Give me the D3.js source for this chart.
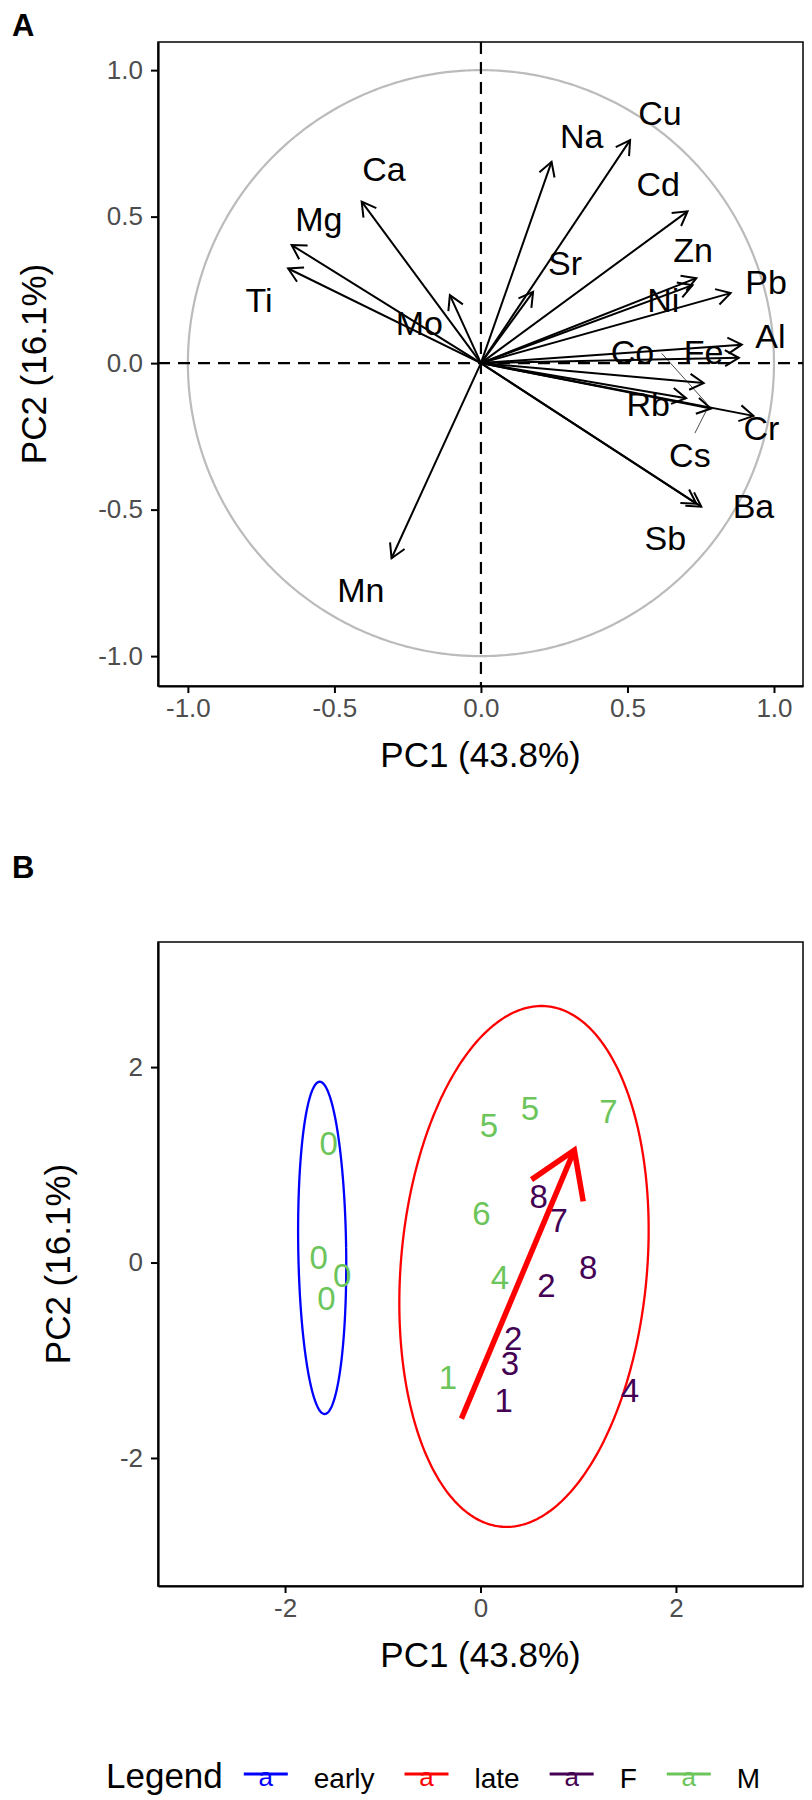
<!DOCTYPE html>
<html><head><meta charset="utf-8">
<script src="https://cdn.jsdelivr.net/npm/d3@7"></script>
<style>body{margin:0;background:#fff} svg{display:block} text{font-family:"Liberation Sans",Arial,sans-serif}</style>
</head><body><svg id="c" width="812" height="1800"></svg>
<script>
// ---------- Panel A data: variable loadings ----------
const variables = ["Cu","Na","Cd","Sr","Zn","Ni","Pb","Al","Fe","Co","Rb","Cs","Cr","Ba","Sb","Mn","Mo","Ti","Mg","Ca"];
const loadPC1 = [0.509,0.241,0.705,0.178,0.735,0.722,0.852,0.89,0.88,0.76,0.70,0.785,0.93,0.752,0.735,-0.305,-0.106,-0.658,-0.646,-0.407];
const loadPC2 = [0.761,0.687,0.518,0.243,0.290,0.266,0.239,0.063,0.018,-0.068,-0.12,-0.155,-0.18,-0.49,-0.48,-0.666,0.232,0.323,0.403,0.551];
const labelPC1 = [0.611,0.344,0.605,0.287,0.724,0.622,0.973,0.988,0.76,0.517,0.571,0.713,0.957,0.93,0.629,-0.41,-0.21,-0.757,-0.553,-0.331];
const labelPC2 = [0.853,0.775,0.613,0.341,0.386,0.215,0.278,0.094,0.039,0.039,-0.138,-0.314,-0.22,-0.486,-0.596,-0.775,0.139,0.217,0.494,0.664];
const leaderFromPC1 = [0.617,0.73], leaderFromPC2 = [0.033,-0.239];
const leaderToPC1 = [0.77,0.77], leaderToPC2 = [-0.137,-0.16];
const ticksA = [-1.0,-0.5,0.0,0.5,1.0];

// ---------- Panel B data: sample scores ----------
const sampleText  = ["0","0","0","0","5","5","6","4","1","7","8","7","8","2","2","3","1","4"];
const sampleSex   = ["M","M","M","M","M","M","M","M","M","M","F","F","F","F","F","F","F","F"];
const scorePC1 = [-1.553,-1.655,-1.416,-1.576,0.085,0.505,0.01,0.198,-0.332,1.31,0.595,0.801,1.101,0.675,0.334,0.30,0.238,1.528];
const scorePC2 = [1.218,0.057,-0.13,-0.369,1.405,1.576,0.505,-0.147,-1.171,1.55,0.68,0.433,-0.051,-0.232,-0.778,-1.034,-1.41,-1.307];
const ellipseGroup = ["early","late"];
const ellipseCx = [-1.62,0.445], ellipseCy = [0.15,-0.04];
const ellipseP = [0.245,1.263], ellipseQ = [-0.025,0.179], ellipseR = [1.70,2.665];
const trendFrom = [-0.195,-1.597], trendTo = [0.96,1.15];
const ticksB = [-2,0,2];

// ---------- Legend ----------
const legendTitle = "Legend";
const legendLabels = ["early","late","F","M"];
const colorMap = {early:"#0000FF", late:"#FF0000", F:"#440154", M:"#6CC55A"};

const svg = d3.select("#c");
const FF = '"Liberation Sans",Arial,sans-serif';

function arrowHead(x1,y1,x2,y2,len,ang){
  const a = Math.atan2(y2-y1,x2-x1);
  return `M${x2-len*Math.cos(a-ang)},${y2-len*Math.sin(a-ang)}L${x2},${y2}L${x2-len*Math.cos(a+ang)},${y2-len*Math.sin(a+ang)}`;
}

function drawFrame(g, x, y, ticks, fmt, ytitleX){
  const [x0,x1] = x.range(), [y1,y0] = y.range();
  g.append("rect").attr("x",x0).attr("y",y0).attr("width",x1-x0).attr("height",y1-y0)
    .attr("fill","none").attr("stroke","#000").attr("stroke-width",1.5);
  const ax = g.append("g").attr("transform",`translate(0,${y1})`)
    .call(d3.axisBottom(x).tickValues(ticks).tickSize(7).tickSizeOuter(0).tickPadding(6).tickFormat(fmt));
  const ay = g.append("g").attr("transform",`translate(${x0},0)`)
    .call(d3.axisLeft(y).tickValues(ticks).tickSize(7).tickSizeOuter(0).tickPadding(8).tickFormat(fmt));
  [ax,ay].forEach(a=>{
    a.attr("font-family",FF).attr("font-size",26);
    a.select(".domain").attr("stroke","#000").attr("stroke-width",2.2);
    a.selectAll(".tick line").attr("stroke","#000").attr("stroke-width",2);
    a.selectAll(".tick text").attr("fill","#4D4D4D");
  });
  ax.selectAll(".tick text").attr("dy","0.71em");
  g.append("text").attr("x",(x0+x1)/2).attr("y",y1+81).attr("text-anchor","middle")
    .attr("font-size",35).attr("fill","#000").text("PC1 (43.8%)");
  g.append("text").attr("transform",`translate(${ytitleX},${(y0+y1)/2}) rotate(-90)`)
    .attr("text-anchor","middle").attr("dy","0.36em").attr("font-size",35).attr("fill","#000").text("PC2 (16.1%)");
}

// ================= Panel A =================
const xA = d3.scaleLinear().domain([-1.102,1.099]).range([158,803]);
const yA = d3.scaleLinear().domain([-1.102,1.096]).range([686,42]);
const gA = svg.append("g");
// unit circle
gA.append("path").attr("d", d3.line().x(t=>xA(Math.cos(t))).y(t=>yA(Math.sin(t)))(d3.range(0,Math.PI*2+0.01,0.01)))
  .attr("fill","none").attr("stroke","#BBBBBB").attr("stroke-width",2.2);
// dashed reference lines
gA.append("line").attr("x1",xA(0)).attr("x2",xA(0)).attr("y1",yA.range()[1]).attr("y2",yA.range()[0])
  .attr("stroke","#000").attr("stroke-width",2.2).attr("stroke-dasharray","12,8");
gA.append("line").attr("y1",yA(0)).attr("y2",yA(0)).attr("x1",xA.range()[0]).attr("x2",xA.range()[1])
  .attr("stroke","#000").attr("stroke-width",2.2).attr("stroke-dasharray","12,8");
// leader segments
gA.selectAll(".lead").data(leaderFromPC1).join("line")
  .attr("x1",(d,i)=>xA(leaderFromPC1[i])).attr("y1",(d,i)=>yA(leaderFromPC2[i]))
  .attr("x2",(d,i)=>xA(leaderToPC1[i])).attr("y2",(d,i)=>yA(leaderToPC2[i]))
  .attr("stroke","#000").attr("stroke-width",0.7);
// arrows
variables.forEach((v,i)=>{
  const x1=xA(0), y1=yA(0), x2=xA(loadPC1[i]), y2=yA(loadPC2[i]);
  gA.append("line").attr("x1",x1).attr("y1",y1).attr("x2",x2).attr("y2",y2).attr("stroke","#000").attr("stroke-width",2);
  gA.append("path").attr("d",arrowHead(x1,y1,x2,y2,16,Math.PI/6)).attr("fill","none").attr("stroke","#000").attr("stroke-width",2);
});
// labels
gA.selectAll(".lab").data(variables).join("text")
  .attr("x",(d,i)=>xA(labelPC1[i])).attr("y",(d,i)=>yA(labelPC2[i]))
  .attr("dy","0.36em").attr("text-anchor","middle").attr("font-size",34).attr("fill","#000").text(d=>d);
drawFrame(gA, xA, yA, ticksA, d=>d.toFixed(1), 33);
svg.append("text").attr("x",12).attr("y",36).attr("font-size",31).attr("font-weight","bold").text("A");

// ================= Panel B =================
const xB = d3.scaleLinear().domain([-3.3,3.3]).range([158,803]);
const yB = d3.scaleLinear().domain([-3.31,3.28]).range([1586,942]);
const gB = svg.append("g");
ellipseGroup.forEach((gname,i)=>{
  const pts = d3.range(0,Math.PI*2+0.02,0.02).map(t=>[
    ellipseCx[i]+ellipseP[i]*Math.cos(t)+ellipseQ[i]*Math.sin(t),
    ellipseCy[i]+ellipseR[i]*Math.sin(t)]);
  gB.append("path").attr("d",d3.line().x(d=>xB(d[0])).y(d=>yB(d[1]))(pts))
    .attr("fill","none").attr("stroke",colorMap[gname]).attr("stroke-width",2.3);
});
gB.selectAll(".pt").data(sampleText).join("text")
  .attr("x",(d,i)=>xB(scorePC1[i])).attr("y",(d,i)=>yB(scorePC2[i]))
  .attr("dy","0.36em").attr("text-anchor","middle").attr("font-size",33)
  .attr("fill",(d,i)=>colorMap[sampleSex[i]]).text(d=>d);
{
  const x1=xB(trendFrom[0]), y1=yB(trendFrom[1]), x2=xB(trendTo[0]), y2=yB(trendTo[1]);
  gB.append("line").attr("x1",x1).attr("y1",y1).attr("x2",x2).attr("y2",y2).attr("stroke","#FF0000").attr("stroke-width",5.5);
  gB.append("path").attr("d",arrowHead(x1,y1,x2,y2,52,0.57)).attr("fill","none").attr("stroke","#FF0000")
    .attr("stroke-width",5.5).attr("stroke-linejoin","miter");
}
drawFrame(gB, xB, yB, ticksB, d=>String(d), 57);
svg.append("text").attr("x",12).attr("y",878).attr("font-size",31).attr("font-weight","bold").text("B");

// ================= Legend =================
const lg = svg.append("g");
const lt = lg.append("text").attr("x",106).attr("y",1788).attr("font-size",35).attr("fill","#000").text(legendTitle);
let cx = 106 + lt.node().getComputedTextLength() + 21;
legendLabels.forEach(l=>{
  const col = colorMap[l];
  lg.append("line").attr("x1",cx).attr("x2",cx+44).attr("y1",1774).attr("y2",1774).attr("stroke",col).attr("stroke-width",3);
  lg.append("text").attr("x",cx+22).attr("y",1786).attr("text-anchor","middle").attr("font-size",26).attr("fill",col).text("a");
  const t = lg.append("text").attr("x",cx+70).attr("y",1788).attr("font-size",28).attr("fill","#000").text(l);
  cx = cx + 70 + t.node().getComputedTextLength() + 30;
});
</script></body></html>
